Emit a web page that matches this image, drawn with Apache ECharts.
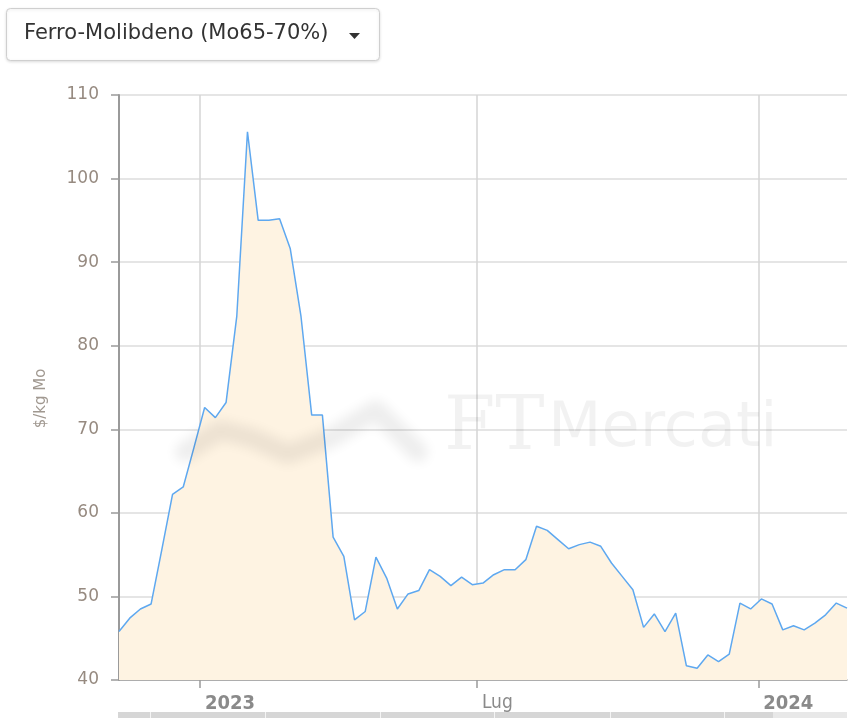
<!DOCTYPE html>
<html>
<head>
<meta charset="utf-8">
<script src="https://cdn.jsdelivr.net/npm/echarts@6/dist/echarts.min.js"></script>
<style>
html,body{margin:0;padding:0;background:#fff;}
#main{width:854px;height:723px;}
</style>
</head>
<body>
<div id="main"></div>
<script>
// date settimanali (mercoledi)
var dates=['2022-11-09','2022-11-16','2022-11-23','2022-11-30','2022-12-07','2022-12-14','2022-12-21','2022-12-28',
	'2023-01-04','2023-01-11','2023-01-18','2023-01-25','2023-02-01','2023-02-08','2023-02-15','2023-02-22',
	'2023-03-01','2023-03-08','2023-03-15','2023-03-22','2023-03-29','2023-04-05','2023-04-12','2023-04-19',
	'2023-04-26','2023-05-03','2023-05-10','2023-05-17','2023-05-24','2023-05-31','2023-06-07','2023-06-14',
	'2023-06-21','2023-06-28','2023-07-05','2023-07-12','2023-07-19','2023-07-26','2023-08-02','2023-08-09',
	'2023-08-16','2023-08-23','2023-08-30','2023-09-06','2023-09-13','2023-09-20','2023-09-27','2023-10-04',
	'2023-10-11','2023-10-18','2023-10-25','2023-11-01','2023-11-08','2023-11-15','2023-11-22','2023-11-29',
	'2023-12-06','2023-12-13','2023-12-20','2023-12-27','2024-01-03','2024-01-10','2024-01-17','2024-01-24',
	'2024-01-31','2024-02-07','2024-02-14','2024-02-21','2024-02-28'];
// $/kg Mo
var prices=[45.8,47.4,48.5,49.1,55.6,62.2,63.1,67.8,
	72.6,71.4,73.2,83.5,105.6,95.0,95.0,95.2,
	91.6,83.5,71.7,71.7,57.1,54.8,47.2,48.2,
	54.7,52.2,48.5,50.3,50.7,53.2,52.4,51.3,
	52.3,51.4,51.6,52.6,53.2,53.2,54.4,58.4,
	57.9,56.8,55.7,56.2,56.5,56.0,54.0,52.4,
	50.8,46.3,47.9,45.8,48.0,41.7,41.4,43.0,
	42.2,43.1,49.2,48.5,49.7,49.1,46.0,46.5,
	46.0,46.8,47.8,49.2,48.6];
// etichette asse x
var tickDates=['2023-01-01','2023-07-01','2024-01-01'];
var yTicks=[40,110,10];
var titolo='Ferro-Molibdeno (Mo65-70%)';
var unita='$/kg Mo';

function toTime(s){
	var p=s.split('-');
	return new Date(+p[0],+p[1]-1,+p[2]).getTime();
}
var tickTimes=tickDates.map(toTime);
var seriesData=[];
for(var i=0;i<dates.length;i++){
	seriesData.push([toTime(dates[i]),prices[i]]);
}

// logo sfocato: disegnato fuori tela, resta visibile solo l'ombra
var OFF=2000;
var logoPts=[[185,452],[220,430],[252,438],[288,454],[330,438],[376,410],[418,452]].map(function(p){return [p[0]-OFF,p[1]];});

var myChart=echarts.init(document.getElementById('main'),null,{renderer:'canvas'});
var option={
	backgroundColor:'#fff',
	animation:false,
	grid:{left:119,right:7,top:95,bottom:43},
	xAxis:{
		type:'value',
		min:seriesData[0][0],
		max:seriesData[seriesData.length-1][0],
		axisLine:{show:true,lineStyle:{color:'#9a9a9a',width:1.5}},
		axisTick:{show:true,length:8,customValues:tickTimes,lineStyle:{color:'#9a9a9a',width:1.5}},
		splitLine:{show:true,lineStyle:{color:'#d4d4d4',width:1.5}},
		axisLabel:{
			customValues:tickTimes,
			margin:14,
			align:'left',
			padding:[0,0,0,5],
			color:'#8a8a8a',
			fontFamily:'DejaVu Sans Condensed',
			fontSize:19,
			formatter:function(v){
				var d=new Date(v);
				if(d.getMonth()==0){
					return '{b|'+d.getFullYear()+'}';
				}
				return 'Lug';
			},
			rich:{b:{fontWeight:'bold',fontFamily:'DejaVu Sans Condensed',fontSize:20,color:'#8a8a8a'}}
		}
	},
	yAxis:{
		type:'value',
		min:yTicks[0],
		max:yTicks[1],
		interval:yTicks[2],
		name:unita,
		nameLocation:'middle',
		nameGap:70,
		nameRotate:90,
		nameTextStyle:{color:'#a09890',fontFamily:'DejaVu Sans',fontSize:15,padding:[0,22,0,0]},
		axisLine:{show:true,lineStyle:{color:'#9a9a9a',width:2}},
		axisTick:{show:true,length:8,lineStyle:{color:'#9a9a9a',width:1.5}},
		splitLine:{show:true,lineStyle:{color:'#dcdcdc',width:1.5}},
		axisLabel:{margin:20,color:'#968a80',fontFamily:'DejaVu Sans',fontSize:17}
	},
	series:[{
		type:'line',
		data:seriesData,
		showSymbol:false,
		symbol:'none',
		lineStyle:{color:'#5ea8f0',width:1.5},
		areaStyle:{color:'#fef3e2',opacity:1},
		z:2
	}],
	graphic:[
		// pulsante a tendina
		{type:'rect',left:6,top:8,shape:{width:373,height:52,r:4},
			style:{fill:'#fff',stroke:'#cfcfcf',lineWidth:1,shadowBlur:3,shadowColor:'rgba(0,0,0,0.12)',shadowOffsetY:1},z:10},
		{type:'text',left:24,top:23,style:{text:titolo,fill:'#333',font:'21px "DejaVu Sans"'},z:11},
		{type:'polygon',shape:{points:[[349,33],[360,33],[354.5,39]]},style:{fill:'#333'},z:11},
		// filigrana
		{type:'polyline',shape:{points:logoPts},
			style:{stroke:'#000',lineWidth:20,lineJoin:'round',lineCap:'round',fill:null,
				shadowBlur:12,shadowColor:'rgba(0,0,0,0.07)',shadowOffsetX:OFF},z:20,silent:true},
		{type:'text',left:444,top:393,silent:true,z:20,
			style:{text:'{s|FT} {n|Mercati}',rich:{
				s:{font:'74px "DejaVu Serif"',fill:'rgba(0,0,0,0.05)'},
				n:{font:'62px "DejaVu Sans"',fill:'rgba(0,0,0,0.05)'}
			}}},
		// barra di scorrimento
		{type:'rect',left:118,top:712,shape:{width:729,height:6},style:{fill:'#d6d6d6'},z:5},
		{type:'rect',left:773,top:712,shape:{width:74,height:6},style:{fill:'#e8e8e8'},z:5},
		{type:'rect',left:150,top:712,shape:{width:1,height:6},style:{fill:'#f4f4f4'},z:6},
		{type:'rect',left:265,top:712,shape:{width:1,height:6},style:{fill:'#f4f4f4'},z:6},
		{type:'rect',left:380,top:712,shape:{width:1,height:6},style:{fill:'#f4f4f4'},z:6},
		{type:'rect',left:494,top:712,shape:{width:1,height:6},style:{fill:'#f4f4f4'},z:6},
		{type:'rect',left:610,top:712,shape:{width:1,height:6},style:{fill:'#f4f4f4'},z:6},
		{type:'rect',left:724,top:712,shape:{width:1,height:6},style:{fill:'#f4f4f4'},z:6}
	]
};
myChart.setOption(option);
</script>
</body>
</html>
